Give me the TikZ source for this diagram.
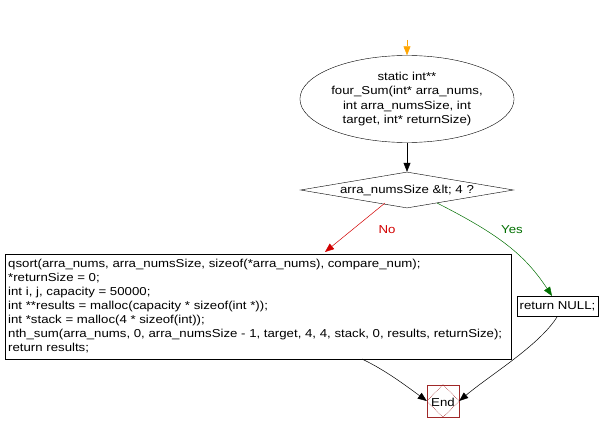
\documentclass[tikz,border=0pt]{standalone}
\usepackage{fontspec}
\setmainfont[FakeStretch=1.15]{Liberation Sans}
\usetikzlibrary{shapes.geometric,arrows.meta}
\definecolor{endred}{RGB}{160,40,40}
\definecolor{yesgreen}{RGB}{0,110,0}
\definecolor{nored}{RGB}{210,0,0}
\definecolor{startor}{RGB}{255,165,0}
\begin{document}
\begin{tikzpicture}[x=1pt,y=-1pt,
  every node/.style={font=\fontsize{11.5}{14.5}\selectfont, inner sep=0pt},
  arr/.style={-{Triangle[length=9pt,width=7pt]}, line width=0.5pt},
  lbl/.style={font=\fontsize{11.5}{12}\selectfont}]
\useasboundingbox (0,0) rectangle (601,433);
\coordinate (s) at (407,40);
\node[draw, ellipse, minimum width=183pt, minimum height=87pt, align=center] (fn) at (407,99)
  {static int**\\four\_Sum(int* arra\_nums,\\int arra\_numsSize, int\\target, int* returnSize)};
\node[draw, diamond, aspect=6, minimum width=213pt, minimum height=36pt] (d) at (407,190) {arra\_numsSize \&lt; 4 ?};
\node[draw, minimum width=506pt, minimum height=105pt] (b) at (258,306.5) {};
\node[anchor=north west, align=left, font=\fontsize{11.5}{14}\selectfont] at (8,259)
  {qsort(arra\_nums, arra\_numsSize, sizeof(*arra\_nums), compare\_num);\\
   *returnSize = 0;\\
   int i, j, capacity = 50000;\\
   int **results = malloc(capacity * sizeof(int *));\\
   int *stack = malloc(4 * sizeof(int));\\
   nth\_sum(arra\_nums, 0, arra\_numsSize - 1, target, 4, 4, stack, 0, results, returnSize);\\
   return results;};
\node[draw, minimum width=81pt, minimum height=20pt] (rn) at (557.5,306) {return NULL;};
\node[draw=endred, minimum width=32pt, minimum height=32pt] (e) at (443,401) {};
\draw[endred, densely dotted, line width=0.6pt] (e.north) -- (e.east) -- (e.south) -- (e.west) -- cycle;
\node at (443,402) {End};
\draw[arr, draw=startor] (s) -- (fn.north);
\draw[arr] (fn.south) -- (d.north);
\draw[arr, draw=nored] (385,203) -- (325,252);
\node[lbl, text=nored] at (387,230) {No};
\draw[arr, draw=yesgreen] (437,203) .. controls (500,235) and (525,255) .. (552,296);
\node[lbl, text=yesgreen] at (512,230) {Yes};
\draw[arr] (362,359) .. controls (385,370) and (405,385) .. (e.west);
\draw[arr] (rn.south) .. controls (540,345) and (490,375) .. (e.east);
\end{tikzpicture}
\end{document}
